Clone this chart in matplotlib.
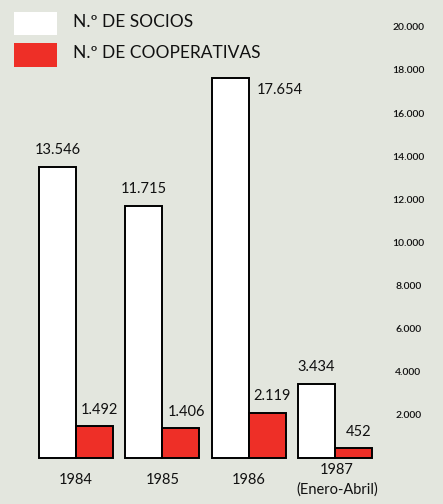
import matplotlib
matplotlib.use("Agg")
import matplotlib.pyplot as plt
from matplotlib.patches import Rectangle

years = ["1984", "1985", "1986", "1987\n(Enero-Abril)"]
socios = [13546, 11715, 17654, 3434]
cooperativas = [1492, 1406, 2119, 452]
socios_labels = ["13.546", "11.715", "17.654", "3.434"]
coop_labels = ["1.492", "1.406", "2.119", "452"]
ticks = [2000, 4000, 6000, 8000, 10000, 12000, 14000, 16000, 18000, 20000]
tick_labels = ["2.000", "4.000", "6.000", "8.000", "10.000", "12.000",
               "14.000", "16.000", "18.000", "20.000"]
legend_labels = ["N.º DE SOCIOS", "N.º DE COOPERATIVAS"]

BG = "#e3e6de"
RED = "#ee2f27"
FONT = "Lato"

fig = plt.figure(figsize=(4.43, 5.04), dpi=100, facecolor=BG)
ax = fig.add_axes([0, 0, 1, 1])
ax.set_facecolor(BG)
ax.set_xlim(-0.88, 4.25)
ax.set_ylim(-2130, 21300)
ax.axis("off")

x = list(range(len(years)))
w = 0.43
ax.bar([i - w / 2 for i in x], socios, width=w, color="white",
       edgecolor="black", linewidth=1.4)
ax.bar([i + w / 2 for i in x], cooperativas, width=w, color=RED,
       edgecolor="black", linewidth=1.4)

# value labels
for i, (v, lab) in enumerate(zip(socios, socios_labels)):
    if i == 2:
        ax.text(i + 0.09, v - 550, lab, ha="left", va="center",
                fontsize=10.5, family=FONT, color="#111111")
    else:
        ax.text(i - w / 2, v + 800, lab, ha="center", va="center",
                fontsize=10.5, family=FONT, color="#111111")
for i, (v, lab) in enumerate(zip(cooperativas, coop_labels)):
    ax.text(i + w / 2 + 0.06, v + 750, lab, ha="center", va="center",
            fontsize=10.5, family=FONT, color="#111111")

# year labels
for i, lab in enumerate(years):
    if "\n" in lab:
        a, b = lab.split("\n")
        ax.text(i + 0.02, -530, a, ha="center", va="center",
                fontsize=10.5, family=FONT, color="#111111")
        ax.text(i + 0.02, -1450, b, ha="center", va="center",
                fontsize=10.5, family=FONT, color="#111111")
    else:
        ax.text(i, -1000, lab, ha="center", va="center",
                fontsize=10.5, family=FONT, color="#111111")

# y tick labels on right
for t, lab in zip(ticks, tick_labels):
    ax.text(3.85, t, lab, ha="center", va="center", fontsize=7.5,
            family=FONT, weight="semibold", color="#111111")

# legend
fig.patches.append(Rectangle((14 / 443, 1 - 35 / 504), 43 / 443, 23 / 504,
                             transform=fig.transFigure, facecolor="white",
                             edgecolor="none"))
fig.patches.append(Rectangle((14 / 443, 1 - 67 / 504), 43 / 443, 24 / 504,
                             transform=fig.transFigure, facecolor=RED,
                             edgecolor="none"))
fig.text(73 / 443, 1 - 22 / 504, legend_labels[0], ha="left", va="center",
         fontsize=12.5, family=FONT, color="#111111")
fig.text(73 / 443, 1 - 53 / 504, legend_labels[1], ha="left", va="center",
         fontsize=12.5, family=FONT, color="#111111")

fig.savefig("out.png", dpi=100, facecolor=BG)
